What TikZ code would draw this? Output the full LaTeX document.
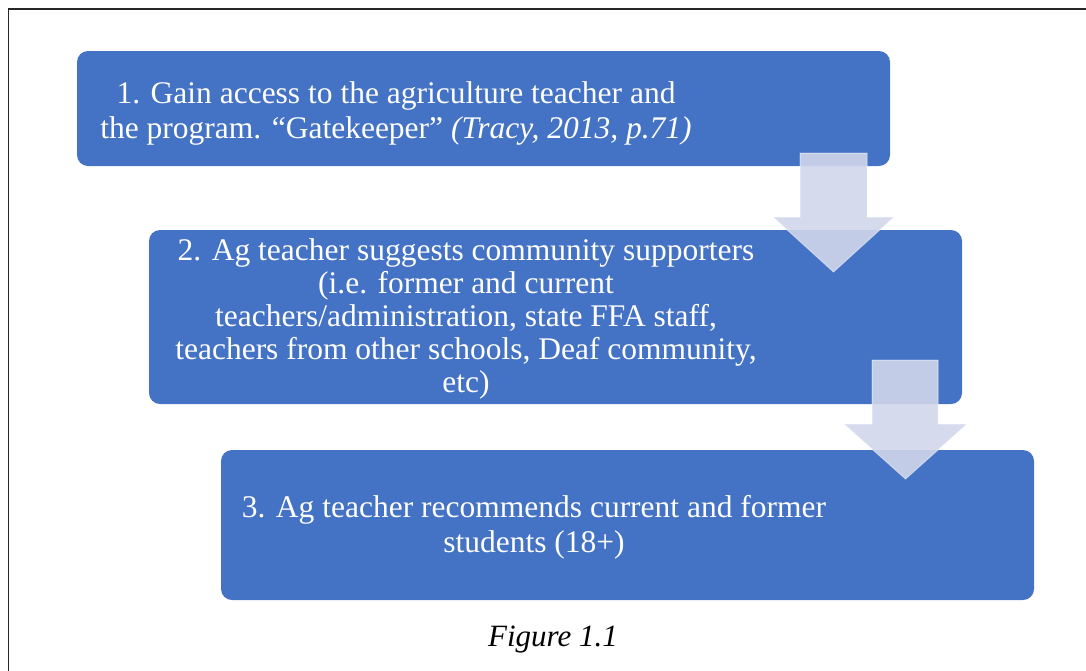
\documentclass[tikz,border=0pt]{standalone}
\usepackage{fontspec}
\setmainfont{Liberation Serif}
\definecolor{stepblue}{RGB}{68,114,196}
\definecolor{arrowfill}{RGB}{208,214,235}
\begin{document}
\begin{tikzpicture}[x=1pt,y=-1pt,
  stepbox/.style={fill=stepblue, rounded corners=11pt},
  steptext/.style={text=white, align=center, inner sep=0pt, font=\fontsize{31.5}{35}\selectfont},
  downarrow/.style={fill=arrowfill, fill opacity=0.9, draw=white, draw opacity=0.45, line width=1pt, line join=miter}]
  \useasboundingbox (0,0) rectangle (1086,670);
  % outer frame, running past the right and bottom edges
  \draw[line width=1.5pt, black!85] (8.5,9) rectangle (1100,690);

  % step boxes
  \path[stepbox] (77,51) rectangle (890,166) coordinate (b1);
  \path[stepbox] (149,230) rectangle (962,404) coordinate (b2);
  \path[stepbox] (221,450) rectangle (1034,600) coordinate (b3);

  % step texts (base anchor = baseline of the last line)
  \node[steptext, anchor=base] (t1) at (396,138)
    {1. Gain access to the agriculture teacher and\\
     the program. “Gatekeeper” \textit{(Tracy, 2013, p.71)}};
  \node[steptext, anchor=base, font=\fontsize{31.5}{32.8}\selectfont] (t2) at (466,392)
    {2. Ag teacher suggests community supporters\\
     (i.e. former and current\\
     teachers/administration, state FFA staff,\\
     teachers from other schools, Deaf community,\\
     etc)};
  \node[steptext, anchor=base] (t3) at (534,552)
    {3. Ag teacher recommends current and former\\
     students (18+)};

  % down arrows between the steps
  \draw[downarrow] (800,153) -- (867,153) -- (867,217) -- (894,217)
    -- (833.5,272) -- (773,217) -- (800,217) -- cycle;
  \draw[downarrow] (872,360) -- (938,360) -- (938,424) -- (967,424)
    -- (905.5,479) -- (844,424) -- (872,424) -- cycle;

  % caption
  \node[font=\fontsize{31}{34}\selectfont\itshape, anchor=base] (cap) at (553,646) {Figure 1.1};
\end{tikzpicture}
\end{document}
